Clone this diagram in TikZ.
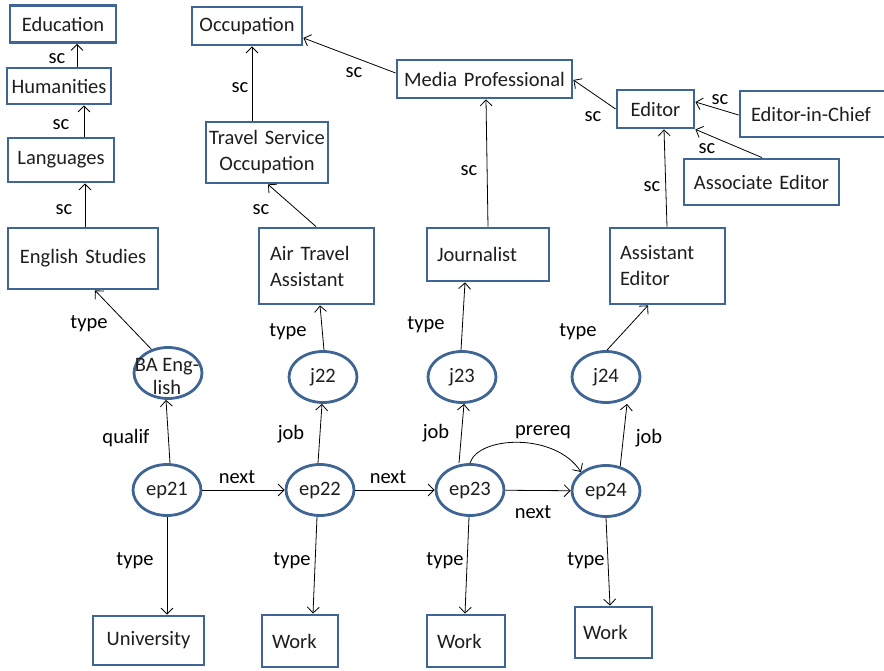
\documentclass[tikz,border=0pt]{standalone}
\usepackage{fontspec}
\setmainfont{Carlito}
\usetikzlibrary{shapes.geometric,arrows.meta}
\definecolor{boxblue}{HTML}{3E6594}
\definecolor{ink}{HTML}{1E1E1E}
\tikzset{
  every node/.style={font=\fontsize{20.5}{26}\selectfont, text=ink},
  bx/.style={draw=boxblue, line width=2.8pt, fill=white, inner ysep=0pt, inner xsep=4pt, align=center},
  lbx/.style={bx, align=left},
  el/.style={ellipse, draw=boxblue, line width=2.8pt, fill=white, minimum width=68pt, minimum height=51pt, inner sep=0pt},
  arr/.style={draw=black, line width=0.8pt, -{Straight Barb[length=6pt,width=12pt]}},
  lab/.style={inner sep=0pt, text=black}
}
\begin{document}
\begin{tikzpicture}[x=1pt,y=-1pt]
\useasboundingbox (0,0) rectangle (884,671);
\clip (0,0) rectangle (884,671);

% ---- class hierarchy boxes
\node[bx, text width=98pt, minimum height=37pt] (edu) at (63,24) {Education};
\node[bx, text width=96pt, minimum height=36pt] (hum) at (59,86) {Humanities};
\node[bx, text width=98pt, minimum height=44pt] (lang) at (61,160) {Languages};
\node[bx, text width=142pt, minimum height=61pt] (eng) at (83,258.5) {English Studies};
\node[bx, text width=102pt, minimum height=38pt] (occ) at (247,26) {Occupation};
\node[bx, inner xsep=1pt, text width=120pt, minimum height=61pt] (tso) at (267,152.5) {Travel Service\\Occupation};
\node[lbx, inner xsep=11pt, text width=93pt, minimum height=76pt] (air) at (316.5,266) {Air Travel\\Assistant};
\node[bx, text width=167pt, minimum height=38pt] (media) at (484.5,79) {Media Professional};
\node[lbx, inner xsep=10pt, text width=102pt, minimum height=53pt] (jour) at (488,254.5) {Journalist};
\node[bx, text width=69pt, minimum height=38pt] (editor) at (655.5,109) {Editor};
\node[lbx, inner xsep=11pt, text width=124pt, minimum height=46pt] (eic) at (813,114) {Editor-in-Chief};
\node[bx, text width=147pt, minimum height=46pt] (assoc) at (761.5,182) {Associate Editor};
\node[lbx, inner xsep=10pt, text width=95pt, minimum height=76pt] (aed) at (667.5,266) {Assistant\\Editor};

% ---- instance nodes
\node[el] (ba) at (168,373) {};
\node[inner sep=0pt, align=center, font=\fontsize{20.5}{23}\selectfont] (batext) at (167,376) {BA Eng-\\lish};
\node[el] (j22) at (323,377) {j22};
\node[el] (j23) at (462,377) {j23};
\node[el] (j24) at (606,377) {j24};
\node[el] (ep21) at (167,490) {ep21};
\node[el] (ep22) at (320,490) {ep22};
\node[el] (ep23) at (470,490) {ep23};
\node[el] (ep24) at (606,491) {ep24};

% ---- type boxes at the bottom
\node[bx, text width=103pt, minimum height=49pt] (univ) at (148.5,640.5) {University};
\node[lbx, inner xsep=10pt, text width=56pt, minimum height=52pt] (w1) at (300,641) {Work};
\node[lbx, inner xsep=10pt, text width=58pt, minimum height=52pt] (w2) at (466,641) {Work};
\node[lbx, inner xsep=8pt, text width=61pt, minimum height=51pt] (w3) at (613.5,632.5) {Work};

% ---- subclass links
\draw[arr] (hum.north -| 77,0) -- (edu.south -| 77,0);
\draw[arr] (lang.north -| 84,0) -- (hum.south -| 84,0);
\draw[arr] (eng.north -| 85,0) -- (lang.south -| 85,0);
\draw[arr] (tso.north -| 252,0) -- (occ.south -| 252,0);
\draw[arr] (air.north -| 316,0) -- (tso.south -| 268,0);
\draw[arr] (media.west |- 0,73) -- (occ.east |- 0,38);
\draw[arr] (jour.north -| 488,0) -- (media.south -| 486,0);
\draw[arr] (editor.west |- 0,109) -- (media.east |- 0,80);
\draw[arr] (eic.west |- 0,115) -- (editor.east |- 0,102);
\draw[arr] (assoc.north -| 762,0) -- (editor.south east);
\draw[arr] (aed.north -| 667,0) -- (editor.south -| 664,0);

% ---- type / job / qualif links
\draw[arr] (ba.125) -- (eng.south -| 95,0);
\draw[arr] (j22.north -| 324,0) -- (air.south -| 320,0);
\draw[arr] (j23.north -| 461,0) -- (jour.south -| 465,0);
\draw[arr] (j24.north -| 607,0) -- (aed.south -| 648,0);
\draw[arr] (ep21.north -| 170,0) -- (ba.south -| 166,0);
\draw[arr] (ep22.north -| 318,0) -- (j22.south -| 322,0);
\draw[arr] (ep23.north -| 459,0) -- (j23.south -| 464,0);
\draw[arr] (ep24.60) -- (j24.south -| 627,0) ;
\draw[arr] (ep21) -- (ep22);
\draw[arr] (ep22) -- (ep23);
\draw[arr] (ep23) -- (ep24);
\draw[arr] (ep23.north) .. controls (478,436) and (555,432) .. (ep24.north west);
\draw[arr] (ep21.south) -- (univ.north -| 167,0);
\draw[arr] (ep22.south -| 317,0) -- (w1.north -| 313,0);
\draw[arr] (ep23.south -| 469,0) -- (w2.north -| 465,0);
\draw[arr] (ep24.south) -- (w3.north -| 610,0);

% ---- edge labels
\node[lab] (l1) at (57,59) {sc};
\node[lab] (l2) at (61,125) {sc};
\node[lab] (l3) at (64,210) {sc};
\node[lab] (l4) at (240,88) {sc};
\node[lab] (l5) at (261,210) {sc};
\node[lab] (l6) at (354,73) {sc};
\node[lab] (l7) at (469,171) {sc};
\node[lab] (l8) at (593,117) {sc};
\node[lab] (l9) at (720,100) {sc};
\node[lab] (l10) at (707,149) {sc};
\node[lab] (l11) at (652,187) {sc};
\node[lab] (l12) at (89,324) {type};
\node[lab] (l13) at (126,438) {qualif};
\node[lab] (l14) at (237,477) {next};
\node[lab] (l15) at (288,332) {type};
\node[lab] (l16) at (291,434) {job};
\node[lab] (l17) at (388,477) {next};
\node[lab] (l18) at (426,325) {type};
\node[lab] (l19) at (436,433) {job};
\node[lab] (l20) at (543,432) {prereq};
\node[lab] (l21) at (578,332) {type};
\node[lab] (l22) at (649,438) {job};
\node[lab] (l23) at (533,512) {next};
\node[lab] (l24) at (135,561) {type};
\node[lab] (l25) at (292,561) {type};
\node[lab] (l26) at (445,561) {type};
\node[lab] (l27) at (586,561) {type};
\end{tikzpicture}
\end{document}
